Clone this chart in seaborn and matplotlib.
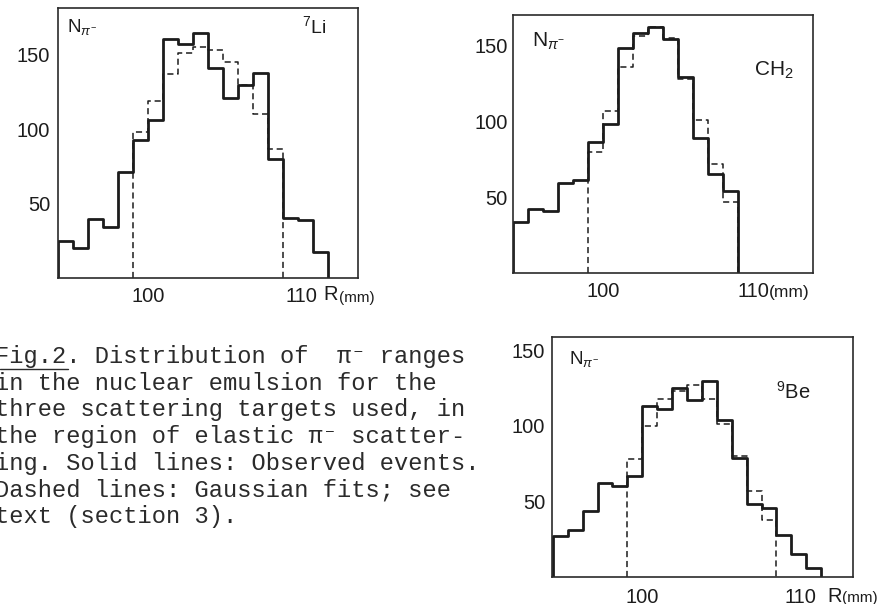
import numpy as np
import pandas as pd
import matplotlib
matplotlib.use("Agg")
import matplotlib.pyplot as plt
import matplotlib.transforms as mtransforms
import seaborn as sns

# ---------------- data (1 mm bins) ----------------
li_obs_start = 94
li_obs = [25, 20.5, 39.5, 34, 71, 93, 106, 160.5, 157, 164.5, 141, 121, 130, 138, 80, 40.5, 39.3, 17.3]
li_fit_start = 99
li_fit = [98, 119, 137, 151, 155, 153, 145, 130, 110, 87]

ch2_obs_start = 94
ch2_obs = [33.6, 42.4, 41, 59, 61, 86, 98.5, 148, 158, 162, 154, 129, 89, 65, 54]
ch2_fit_start = 99
ch2_fit = [80, 107, 136, 156, 162, 155, 128, 101, 71.6, 47]

be_obs_start = 94
be_obs = [27, 31, 44, 62.5, 60.5, 67, 113, 111, 125, 117, 130, 104, 79, 48.5, 45.6, 27.6, 15, 5.7]
be_fit_start = 99
be_fit = [78, 100, 118, 123, 127, 118, 101, 80, 57, 37.5]

y_ticks = [50, 100, 150]
x_major = [100, 110]
x_major_labels = ["100", "110"]
x_minor = list(range(94, 115, 2))

caption_lines = [
    "Fig.2. Distribution of  \u03c0\u207b ranges",
    "in the nuclear emulsion for the",
    "three scattering targets used, in",
    "the region of elastic \u03c0\u207b scatter-",
    "ing. Solid lines: Observed events.",
    "Dashed lines: Gaussian fits; see",
    "text (section 3).",
]

# ---------------- style ----------------
sns.set_theme(style="white")
plt.rcParams["font.family"] = ["Liberation Sans", "DejaVu Sans"]
plt.rcParams["mathtext.fontset"] = "custom"
plt.rcParams["mathtext.rm"] = "Liberation Sans"
plt.rcParams["mathtext.it"] = "Liberation Sans:italic"
plt.rcParams["mathtext.bf"] = "Liberation Sans:bold"

INK = "#1c1c1c"
W, H = 879, 604
fig = plt.figure(figsize=(W / 100, H / 100), dpi=100)
fig.patch.set_facecolor("white")


def fx(px):
    return px / W


def fy(py):
    return 1 - py / H


def make_axes(left, top, right, bottom):
    return fig.add_axes([fx(left), fy(bottom), (right - left) / W, (bottom - top) / H])


def hist_step(ax, start, counts, **kw):
    """Histogram outline (1 mm bins) closed down to zero at both ends."""
    edges = np.arange(start, start + len(counts) + 1, 1.0)
    xs = np.repeat(edges, 2)
    ys = np.concatenate([[0.0], np.repeat(np.asarray(counts, float), 2), [0.0]])
    df = pd.DataFrame({"R": xs, "N": ys})
    sns.lineplot(data=df, x="R", y="N", sort=False, estimator=None, ax=ax, **kw)


def style_axes(ax, xlim, ylim, ypad, xpad):
    ax.set_xlim(*xlim)
    ax.set_ylim(*ylim)
    ax.set_xlabel("")
    ax.set_ylabel("")
    for s in ax.spines.values():
        s.set_visible(True)
        s.set_color("#2a2a2a")
        s.set_linewidth(1.2)
    ax.set_yticks(y_ticks)
    ax.set_yticklabels([str(v) for v in y_ticks])
    ax.set_xticks(x_major)
    ax.set_xticklabels(x_major_labels)
    ax.set_xticks(x_minor, minor=True)
    ax.tick_params(axis="y", which="major", direction="in", length=6, width=1.1,
                   color="#2a2a2a", labelsize=14.5, pad=ypad, labelcolor=INK)
    ax.tick_params(axis="x", which="both", direction="in", length=6, width=1.1,
                   color="#2a2a2a", labelsize=14.5, pad=xpad, labelcolor=INK)
    ax.set_facecolor("white")
    ax.grid(False)


def draw_panel(ax, obs_start, obs, fit_start, fit):
    hist_step(ax, fit_start, fit, color=INK, linewidth=1.1, linestyle=(0, (4, 2.5)))
    hist_step(ax, obs_start, obs, color=INK, linewidth=2.0)


# ---------------- 7Li panel ----------------
ax1 = make_axes(58, 8, 358, 278)
draw_panel(ax1, li_obs_start, li_obs, li_fit_start, li_fit)
style_axes(ax1, (94.0, 113.9), (0, 181.5), ypad=5.5, xpad=6.5)

# ---------------- CH2 panel ----------------
ax2 = make_axes(513, 15, 813, 273)
draw_panel(ax2, ch2_obs_start, ch2_obs, ch2_fit_start, ch2_fit)
style_axes(ax2, (94.0, 113.8), (0, 170), ypad=4.0, xpad=6.5)

# ---------------- 9Be panel ----------------
ax3 = make_axes(552, 337, 853, 577)
draw_panel(ax3, be_obs_start, be_obs, be_fit_start, be_fit)
style_axes(ax3, (93.94, 114.14), (0, 158.8), ypad=5.0, xpad=8.0)

# nudge the "110" labels slightly right as in the original
for ax, dx in ((ax1, 3), (ax3, 9)):
    lab = ax.get_xticklabels()[1]
    lab.set_transform(lab.get_transform() +
                      mtransforms.ScaledTranslation(dx / 100, 0, fig.dpi_scale_trans))

# ---------------- in-panel labels ----------------
txt = dict(color=INK, va="top", ha="left")
fig.text(fx(67), fy(17), r"N$_{\pi^{-}}$", fontsize=13.5, **txt)
fig.text(fx(302), fy(15), r"$^{7}$Li", fontsize=14, **txt)
fig.text(fx(532), fy(31), r"N$_{\pi^{-}}$", fontsize=15, **txt)
fig.text(fx(754), fy(60), r"CH$_{2}$", fontsize=15, **txt)
fig.text(fx(569), fy(349), r"N$_{\pi^{-}}$", fontsize=13.5, **txt)
fig.text(fx(776), fy(381), r"$^{9}$Be", fontsize=14.5, **txt)

# axis unit labels
mid = dict(color=INK, va="center", ha="left")
fig.text(fx(323), fy(295), "R", fontsize=14.5, **mid)
fig.text(fx(339), fy(298), "(mm)", fontsize=11, **mid)
fig.text(fx(769), fy(292), "(mm)", fontsize=12.5, **mid)
fig.text(fx(827), fy(596), "R", fontsize=14.5, **mid)
fig.text(fx(842), fy(598), "(mm)", fontsize=11, **mid)

# ---------------- caption ----------------
cap_font = ["Liberation Mono", "DejaVu Sans Mono"]
for i, line in enumerate(caption_lines):
    fig.text(fx(-5), fy(363 + 26.7 * i), line, family=cap_font, fontsize=17.1,
             color="#2b2b2b", va="baseline", ha="left")
fig.add_artist(plt.Line2D([fx(0), fx(68)], [fy(369), fy(369)], color="#2b2b2b",
                          linewidth=1.0, transform=fig.transFigure))

fig.savefig("out.png", dpi=100, facecolor="white")
